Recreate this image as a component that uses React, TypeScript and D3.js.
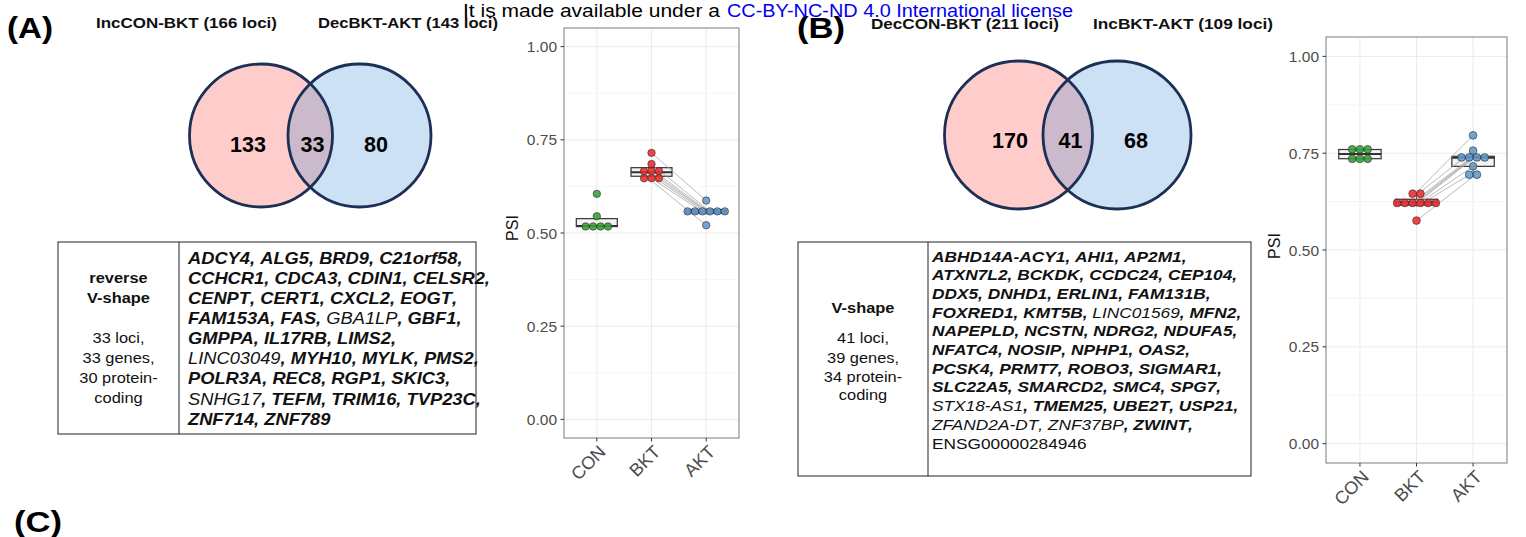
import * as d3 from "d3";

const FONT = "'Liberation Sans', Arial, Helvetica, sans-serif";

const groups = ["CON", "BKT", "AKT"];
const groupColors = ["#36a136", "#ee2a2e", "#6199cf"];
const psiTicks = [0, 0.25, 0.5, 0.75, 1];
const binWidth = 0.02;

// panel A: reverse V-shape loci (dot positions)
const psiA_CON = [0.605, 0.545, 0.519, 0.518, 0.517, 0.516];
const psiA_BKT = [0.715, 0.685, 0.672, 0.666, 0.66, 0.654, 0.647, 0.64];
const psiA_AKT = [0.587, 0.566, 0.562, 0.559, 0.557, 0.554, 0.55, 0.521];

// panel B: V-shape loci
const psiB_CON = [0.762, 0.76, 0.758, 0.738, 0.735, 0.733];
const psiB_BKT = [0.649, 0.642, 0.631, 0.627, 0.623, 0.62, 0.616, 0.612, 0.576];
const psiB_AKT = [0.796, 0.7565, 0.742, 0.74, 0.738, 0.736, 0.716, 0.7, 0.689];

const vennA = [133, 33, 80];
const vennB = [170, 41, 68];
const vennLabelsA = ["IncCON-BKT (166 loci)", "DecBKT-AKT (143 loci)"];
const vennLabelsB = ["DecCON-BKT (211 loci)", "IncBKT-AKT (109 loci)"];

const lociA = 33;
const shapeA = ["reverse", "V-shape"];
const genesA = [
  ["ADCY4", "ALG5", "BRD9", "C21orf58"],
  ["CCHCR1", "CDCA3", "CDIN1", "CELSR2"],
  ["CENPT", "CERT1", "CXCL2", "EOGT"],
  ["FAM153A", "FAS", "GBA1LP", "GBF1"],
  ["GMPPA", "IL17RB", "LIMS2"],
  ["LINC03049", "MYH10", "MYLK", "PMS2"],
  ["POLR3A", "REC8", "RGP1", "SKIC3"],
  ["SNHG17", "TEFM", "TRIM16", "TVP23C"],
  ["ZNF714", "ZNF789"],
];
const nonCodingA = ["GBA1LP", "LINC03049", "SNHG17"];

const lociB = 41;
const shapeB = ["V-shape"];
const genesB = [
  ["ABHD14A-ACY1", "AHI1", "AP2M1"],
  ["ATXN7L2", "BCKDK", "CCDC24", "CEP104"],
  ["DDX5", "DNHD1", "ERLIN1", "FAM131B"],
  ["FOXRED1", "KMT5B", "LINC01569", "MFN2"],
  ["NAPEPLD", "NCSTN", "NDRG2", "NDUFA5"],
  ["NFATC4", "NOSIP", "NPHP1", "OAS2"],
  ["PCSK4", "PRMT7", "ROBO3", "SIGMAR1"],
  ["SLC22A5", "SMARCD2", "SMC4", "SPG7"],
  ["STX18-AS1", "TMEM25", "UBE2T", "USP21"],
  ["ZFAND2A-DT", "ZNF37BP", "ZWINT"],
  ["ENSG00000284946"],
];
const nonCodingB = ["LINC01569", "STX18-AS1", "ZFAND2A-DT", "ZNF37BP"];
const unannotated = ["ENSG00000284946"];

function binDots(vals: number[]) {
  const s = [...vals].sort((a, b) => a - b);
  const bins: { center: number; n: number }[] = [];
  let i = 0;
  while (i < s.length) {
    const start = s[i];
    const members: number[] = [];
    while (i < s.length && s[i] < start + binWidth - 1e-9) {
      members.push(s[i]);
      i++;
    }
    bins.push({ center: (members[0] + members[members.length - 1]) / 2, n: members.length });
  }
  return bins;
}

function Venn({ cx1, cx2, cy, r, counts, numX, numY }: any) {
  const id = `clip${Math.round(cx1)}`;
  return (
    <g>
      <defs>
        <clipPath id={id}>
          <circle cx={cx1} cy={cy} r={r} />
        </clipPath>
      </defs>
      <circle cx={cx1} cy={cy} r={r} fill="#ffcccc" />
      <circle cx={cx2} cy={cy} r={r} fill="#cce1f3" />
      <circle cx={cx2} cy={cy} r={r} fill="#cbbacb" clipPath={`url(#${id})`} />
      <circle cx={cx1} cy={cy} r={r} fill="none" stroke="#1c2f55" strokeWidth={2.8} />
      <circle cx={cx2} cy={cy} r={r} fill="none" stroke="#1c2f55" strokeWidth={2.8} />
      {counts.map((c: number, i: number) => (
        <text key={i} x={numX[i]} y={numY} textAnchor="middle" fontSize={21.5} fontWeight="bold" fontFamily={FONT}>
          {c}
        </text>
      ))}
    </g>
  );
}

function GeneTable({ x0, x1, xDiv, y0, y1, shape, loci, lines, nonCoding, leftYs, textX, firstY, step, fontSize, sx }: any) {
  const all: string[] = lines.flat();
  const nGenes = all.length;
  const isCoding = (g: string) => !nonCoding.includes(g) && !unannotated.includes(g);
  const nProtein = all.filter(isCoding).length;
  const leftLines = [
    ...shape.map((t: string) => ({ t, bold: true })),
    { t: `${loci} loci,`, bold: false },
    { t: `${nGenes} genes,`, bold: false },
    { t: `${nProtein} protein-`, bold: false },
    { t: "coding", bold: false },
  ];
  const cx = (x0 + xDiv) / 2;
  let k = 0;
  return (
    <g fontFamily={FONT}>
      <rect x={x0} y={y0} width={x1 - x0} height={y1 - y0} fill="white" stroke="#222" strokeWidth={1} />
      <line x1={xDiv} x2={xDiv} y1={y0} y2={y1} stroke="#222" strokeWidth={1} />
      {leftLines.map((d: any, i: number) => (
        <text
          key={i}
          transform={`translate(${cx},${leftYs[i] + 5}) scale(${sx},1)`}
          textAnchor="middle"
          fontSize={14.5}
          fontWeight={d.bold ? "bold" : "normal"}
          fill="#111"
        >
          {d.t}
        </text>
      ))}
      {lines.map((line: string[], li: number) => (
        <text
          key={li}
          transform={`translate(${textX},${firstY + li * step + fontSize * 0.36}) scale(${sx},1)`}
          fontSize={fontSize}
          fill="#111"
          style={{ whiteSpace: "pre" }}
        >
          {line.map((g) => {
            const idx = k++;
            const next = all[idx + 1];
            const coding = isCoding(g);
            const una = unannotated.includes(g);
            const commaBold = next !== undefined && (coding || isCoding(next));
            return (
              <tspan key={g}>
                <tspan fontWeight={coding ? "bold" : "normal"} fontStyle={una ? "normal" : "italic"}>
                  {g}
                </tspan>
                {next !== undefined && (
                  <tspan fontWeight={commaBold ? "bold" : "normal"} fontStyle="italic">
                    {","}
                  </tspan>
                )}
                {next !== undefined && <tspan>{" "}</tspan>}
              </tspan>
            );
          })}
        </text>
      ))}
    </g>
  );
}

function PsiPlot({ left, top, right, bottom, values, psiOffset }: any) {
  const y = d3.scaleLinear().domain([-0.05, 1.05]).range([bottom, top]);
  const x = d3.scalePoint<string>().domain(groups).range([left, right]).padding(0.6);
  const step = x.step();
  const diam = y(0) - y(binWidth);
  const minor = d3.pairs(psiTicks).map(([a, b]) => (a + b) / 2);
  const boxes = values.map((v: number[]) => {
    const s = [...v].sort((a, b) => a - b);
    const q1 = d3.quantileSorted(s, 0.25)!;
    const med = d3.quantileSorted(s, 0.5)!;
    const q3 = d3.quantileSorted(s, 0.75)!;
    const iqr = q3 - q1;
    const lo = d3.min(s.filter((d) => d >= q1 - 1.5 * iqr))!;
    const hi = d3.max(s.filter((d) => d <= q3 + 1.5 * iqr))!;
    return { q1, med, q3, lo, hi };
  });
  const bw = step * 0.75;
  return (
    <g fontFamily={FONT}>
      <rect x={left} y={top} width={right - left} height={bottom - top} fill="white" />
      {minor.map((t) => (
        <line key={`m${t}`} x1={left} x2={right} y1={y(t)} y2={y(t)} stroke="#f2f2f2" strokeWidth={0.7} />
      ))}
      {psiTicks.map((t) => (
        <line key={`g${t}`} x1={left} x2={right} y1={y(t)} y2={y(t)} stroke="#ebebeb" strokeWidth={1} />
      ))}
      {groups.map((g) => (
        <line key={`v${g}`} x1={x(g)} x2={x(g)} y1={top} y2={bottom} stroke="#ebebeb" strokeWidth={1} />
      ))}
      {boxes.map((b: any, i: number) => {
        const cx = x(groups[i])!;
        return (
          <g key={i}>
            <line x1={cx} x2={cx} y1={y(b.hi)} y2={y(b.q3)} stroke="#333" strokeWidth={0.8} />
            <line x1={cx} x2={cx} y1={y(b.q1)} y2={y(b.lo)} stroke="#333" strokeWidth={0.8} />
            <rect x={cx - bw / 2} y={y(b.q3)} width={bw} height={Math.max(0.1, y(b.q1) - y(b.q3))} fill="#f3f3f3" stroke="#333" strokeWidth={1.2} />
            <line x1={cx - bw / 2} x2={cx + bw / 2} y1={y(b.med)} y2={y(b.med)} stroke="#333" strokeWidth={2} />
          </g>
        );
      })}
      {values[1].map((v: number, i: number) => (
        <line key={`p${i}`} x1={x("BKT")} x2={x("AKT")} y1={y(v)} y2={y(values[2][i])} stroke="#a3a3a3" strokeWidth={0.75} />
      ))}
      {values.map((v: number[], gi: number) =>
        binDots(v).flatMap((bin, bi) =>
          d3.range(bin.n).map((j) => (
            <circle
              key={`${gi}-${bi}-${j}`}
              cx={x(groups[gi])! + (j - (bin.n - 1) / 2) * diam}
              cy={y(bin.center)}
              r={diam / 2}
              fill={groupColors[gi]}
              fillOpacity={0.88}
              stroke="#2a2a2a"
              strokeWidth={0.6}
            />
          ))
        )
      )}
      <rect x={left} y={top} width={right - left} height={bottom - top} fill="none" stroke="#7a7a7a" strokeWidth={1} />
      {psiTicks.map((t) => (
        <g key={`t${t}`}>
          <line x1={left - 3.5} x2={left} y1={y(t)} y2={y(t)} stroke="#333" strokeWidth={1} />
          <text x={left - 7} y={y(t) + 5.5} textAnchor="end" fontSize={15.5} fill="#4d4d4d">
            {d3.format(".2f")(t)}
          </text>
        </g>
      ))}
      {groups.map((g) => (
        <g key={`x${g}`}>
          <line x1={x(g)} x2={x(g)} y1={bottom} y2={bottom + 3.5} stroke="#333" strokeWidth={1} />
          <text transform={`translate(${x(g)! + 10},${bottom + 15}) rotate(-45)`} textAnchor="end" fontSize={18} fill="#4d4d4d">
            {g}
          </text>
        </g>
      ))}
      <text transform={`translate(${left - 46},${(top + bottom) / 2 + psiOffset}) rotate(-90)`} textAnchor="middle" fontSize={16} fill="#111">
        PSI
      </text>
    </g>
  );
}

export default function App() {
  return (
    <svg width={1526} height={537} style={{ position: "absolute", left: 0, top: 0, background: "white" }} fontFamily={FONT}>
      <rect width={1526} height={537} fill="white" />
      {/* panel A */}
      <text x={7} y={38} fontSize={29} fontWeight="bold" textLength={46} lengthAdjust="spacingAndGlyphs">(A)</text>
      <text x={96} y={28} fontSize={15} fontWeight="bold" textLength={181} lengthAdjust="spacingAndGlyphs" fill="#111">{vennLabelsA[0]}</text>
      <text x={318} y={28} fontSize={15} fontWeight="bold" textLength={180} lengthAdjust="spacingAndGlyphs" fill="#111">{vennLabelsA[1]}</text>
      <Venn cx1={261} cx2={359.5} cy={135.5} r={71.5} counts={vennA} numX={[248, 312.5, 376]} numY={151.5} />
      <GeneTable
        x0={58} x1={476} xDiv={179} y0={242} y1={434}
        shape={shapeA} loci={lociA} lines={genesA} nonCoding={nonCodingA}
        leftYs={[278, 298, 338, 358, 378, 398]}
        textX={188} firstY={258} step={20.1} fontSize={16.2} sx={1.13}
      />
      <PsiPlot left={564} top={28} right={739} bottom={438} values={[psiA_CON, psiA_BKT, psiA_AKT]} psiOffset={-5} />

      {/* panel B */}
      <text x={797} y={38} fontSize={29} fontWeight="bold" textLength={48} lengthAdjust="spacingAndGlyphs">(B)</text>
      <text x={871} y={29} fontSize={15} fontWeight="bold" textLength={188} lengthAdjust="spacingAndGlyphs" fill="#111">{vennLabelsB[0]}</text>
      <text x={1093} y={29} fontSize={15} fontWeight="bold" textLength={180} lengthAdjust="spacingAndGlyphs" fill="#111">{vennLabelsB[1]}</text>
      <Venn cx1={1018.5} cx2={1117} cy={135} r={74} counts={vennB} numX={[1010, 1070.5, 1136]} numY={148} />
      <GeneTable
        x0={798} x1={1251} xDiv={928} y0={242} y1={476}
        shape={shapeB} loci={lociB} lines={genesB} nonCoding={nonCodingB}
        leftYs={[308, 338, 358, 377, 395]}
        textX={932} firstY={256} step={18.7} fontSize={15.3} sx={1.13}
      />
      <PsiPlot left={1326} top={37} right={1507} bottom={463} values={[psiB_CON, psiB_BKT, psiB_AKT]} psiOffset={-4} />

      {/* header overlay */}
      <text x={463} y={17} fontSize={17.5} textLength={257} lengthAdjust="spacingAndGlyphs" fill="#000">It is made available under a</text>
      <text x={727} y={17} fontSize={17.5} textLength={346} lengthAdjust="spacingAndGlyphs" fill="#0000ee">CC-BY-NC-ND 4.0 International license</text>

      <text x={14} y={532} fontSize={29} fontWeight="bold" textLength={48} lengthAdjust="spacingAndGlyphs">(C)</text>
    </svg>
  );
}
